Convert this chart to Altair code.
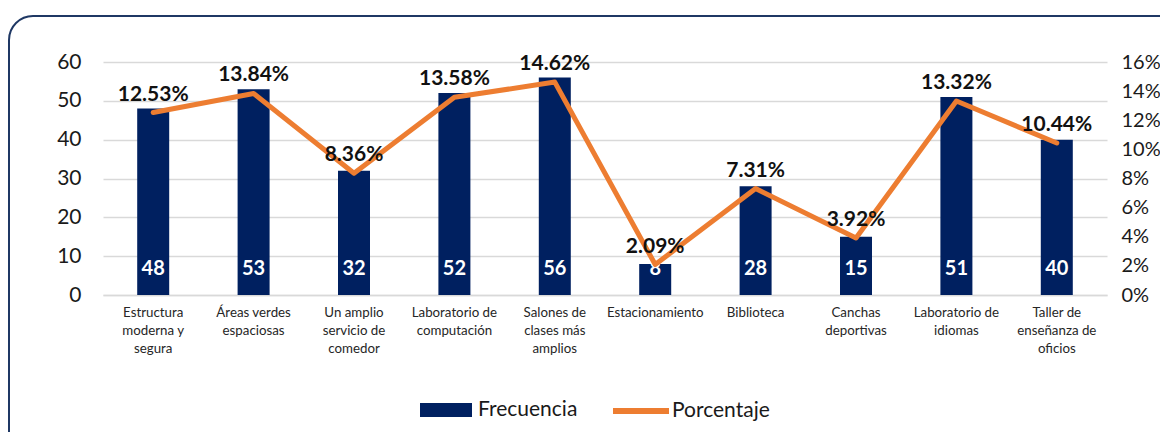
import altair as alt
import pandas as pd

categories = [
    "Estructura\nmoderna y\nsegura",
    "Áreas verdes\nespaciosas",
    "Un amplio\nservicio de\ncomedor",
    "Laboratorio de\ncomputación",
    "Salones de\nclases más\namplios",
    "Estacionamiento",
    "Biblioteca",
    "Canchas\ndeportivas",
    "Laboratorio de\nidiomas",
    "Taller de\nenseñanza de\noficios",
]
frecuencia = [48, 53, 32, 52, 56, 8, 28, 15, 51, 40]
porcentaje = [12.53, 13.84, 8.36, 13.58, 14.62, 2.09, 7.31, 3.92, 13.32, 10.44]
left_ticks = [0, 10, 20, 30, 40, 50, 60]
right_ticks = [0, 2, 4, 6, 8, 10, 12, 14, 16]
series_names = ["Frecuencia", "Porcentaje"]

df = pd.DataFrame({"cat": categories, "freq": frecuencia, "pct": porcentaje})

FONT = "Lato"
NAVY = "#002060"
ORANGE = "#ED7D31"

x = alt.X(
    "cat:N",
    sort=categories,
    title=None,
    scale=alt.Scale(type="band", paddingInner=0, paddingOuter=0),
    axis=alt.Axis(
        labelAngle=0,
        labelExpr="split(datum.value, '\\n')",
        labelFont=FONT,
        labelFontSize=13.3,
        labelColor="#262626",
        labelLineHeight=18,
        labelPadding=10,
        labelBaseline="top",
        ticks=False,
        domainColor="#d9d9d9",
        domainWidth=1.5,
        labelLimit=300,
    ),
)

left_axis = alt.Axis(
    values=left_ticks,
    orient="left",
    labelFont=FONT,
    labelFontSize=21,
    labelColor="#1a1a1a",
    labelPadding=22,
    labelOverlap=False,
    ticks=False,
    domain=False,
    grid=True,
    gridColor="#d9d9d9",
    gridWidth=1.5,
)
left_scale = alt.Scale(domain=[0, 60], nice=False)

right_axis = alt.Axis(
    values=right_ticks,
    orient="right",
    labelExpr="datum.value + '%'",
    labelFont=FONT,
    labelFontSize=20,
    labelColor="#1a1a1a",
    labelPadding=14,
    labelOverlap=False,
    ticks=False,
    domain=False,
    grid=False,
)
right_scale = alt.Scale(domain=[0, 16], nice=False)

base = alt.Chart(df)

bars = base.transform_calculate(series=f"'{series_names[0]}'").mark_bar(size=32).encode(
    x=x,
    y=alt.Y("freq:Q", title=None, scale=left_scale, axis=left_axis),
    fill=alt.Fill(
        "series:N",
        scale=alt.Scale(domain=[series_names[0]], range=[NAVY]),
        legend=alt.Legend(
            title=None,
            orient="none",
            legendX=317,
            legendY=322,
            symbolType="M-1,-0.27H1V0.27H-1Z",
            symbolSize=2704,
            symbolStrokeWidth=0,
            labelFont=FONT,
            labelFontSize=21,
            labelColor="#1a1a1a",
            labelOffset=6,
        ),
    ),
)

bar_text = base.mark_text(
    font=FONT, fontSize=20, fontWeight="bold", color="white", baseline="middle", dy=-26
).encode(
    x=x,
    y=alt.Y(datum=0, title=None, scale=left_scale, axis=left_axis),
    text=alt.Text("freq:Q"),
)

left = alt.layer(bars, bar_text)

line = base.transform_calculate(series=f"'{series_names[1]}'").mark_line(
    strokeWidth=5, strokeCap="round", strokeJoin="round"
).encode(
    x=x,
    y=alt.Y("pct:Q", title=None, scale=right_scale, axis=right_axis),
    stroke=alt.Stroke(
        "series:N",
        scale=alt.Scale(domain=[series_names[1]], range=[ORANGE]),
        legend=alt.Legend(
            title=None,
            orient="none",
            legendX=507,
            legendY=318,
            symbolType="stroke",
            symbolSize=3136,
            symbolStrokeWidth=6,
            labelFont=FONT,
            labelFontSize=21,
            labelColor="#1a1a1a",
            labelOffset=0,
        ),
    ),
)

pct_text = base.transform_calculate(
    pct_label="format(datum.pct, '.2f') + '%'"
).mark_text(
    font=FONT, fontSize=21, fontWeight="bold", color="#111111", baseline="alphabetic", dy=-12
).encode(
    x=x,
    y=alt.Y("pct:Q", title=None, scale=right_scale, axis=right_axis),
    text=alt.Text("pct_label:N"),
)

right = alt.layer(line, pct_text)

border = alt.Chart(alt.Data(values=[{"a": 1}])).mark_rect(
    fillOpacity=0, stroke="#1F3864", strokeWidth=2, cornerRadius=24
).encode(
    x=alt.value(-94), x2=alt.value(1100), y=alt.value(-46), y2=alt.value(400)
)

chart = (
    alt.layer(left, right, border)
    .resolve_scale(y="independent", fill="independent", stroke="independent")
    .properties(
        width=1004,
        height=233,
        autosize="none",
        padding={"left": 95, "top": 54, "right": 53, "bottom": 137},
        background="white",
    )
    .configure_view(strokeWidth=0)
)

chart.save("out.html", embed_options={"renderer": "svg", "actions": False})
